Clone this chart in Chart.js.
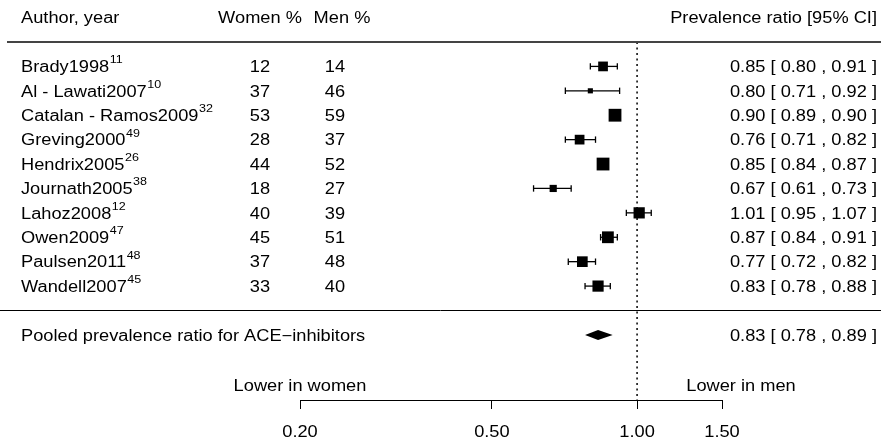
<!DOCTYPE html>
<html><head><meta charset="utf-8">
<script src="https://cdn.jsdelivr.net/npm/chart.js@4.4.1/dist/chart.umd.min.js"></script>
<style>html,body{margin:0;padding:0;background:#fff}#wrap{width:881px;height:440px}</style>
</head><body><div id="wrap"><canvas id="c" width="881" height="440"></canvas></div>
<script>
// ---- data ----
const studies = ['Brady1998', 'Al - Lawati2007', 'Catalan - Ramos2009', 'Greving2000', 'Hendrix2005', 'Journath2005', 'Lahoz2008', 'Owen2009', 'Paulsen2011', 'Wandell2007'];
const refs = ['11', '10', '32', '49', '26', '38', '12', '47', '48', '45'];
const womenPct = [12, 37, 53, 28, 44, 18, 40, 45, 37, 33];
const menPct = [14, 46, 59, 37, 52, 27, 39, 51, 48, 40];
const ratio = [0.85, 0.80, 0.90, 0.76, 0.85, 0.67, 1.01, 0.87, 0.77, 0.83];
const ciLow = [0.80, 0.71, 0.89, 0.71, 0.84, 0.61, 0.95, 0.84, 0.72, 0.78];
const ciHigh = [0.91, 0.92, 0.90, 0.82, 0.87, 0.73, 1.07, 0.91, 0.82, 0.88];
const weights = [8.6, 2.4, 14.9, 8.6, 14.9, 4.7, 11.5, 12.6, 10.4, 11.4];
const pooledLabel = 'Pooled prevalence ratio for ACE\u2212inhibitors';
const pooledRatio = [0.83];
const pooledLow = [0.78];
const pooledHigh = [0.89];
const xTicks = [0.20, 0.50, 1.00, 1.50];
const headers = ['Author, year', 'Women %', 'Men %', 'Prevalence ratio [95% CI]'];
const sideLabels = ['Lower in women', 'Lower in men'];

// ---- layout / style ----
const FONT = '"Liberation Sans", Arial, Helvetica, sans-serif';
const SX = 1.14;
const Y_MIN = -1, Y_MAX = 13.667;
const POOLED_ROW = 11, SEP_ROW = 10, HEADER_ROW = -2;

function txt(ctx, s, x, y, align, size) {
  ctx.save();
  ctx.font = size + 'px ' + FONT;
  ctx.fillStyle = '#000';
  ctx.textBaseline = 'alphabetic';
  ctx.textAlign = align;
  ctx.translate(x, y + size * 0.358);
  ctx.scale(SX, 1);
  ctx.fillText(s, 0, 0);
  const w = ctx.measureText(s).width * SX;
  ctx.restore();
  return w;
}
function fmt(v) { return v.toFixed(2); }
function sideFor(w) { return 12.8 * Math.sqrt(w / 14.9); }

const forestPlugin = {
  id: 'forest',
  afterDatasetsDraw(chart) {
    const ctx = chart.ctx, xs = chart.scales.x, ys = chart.scales.y;
    const yp = ys.getPixelForValue(POOLED_ROW);
    ctx.save();
    ctx.fillStyle = '#000';
    ctx.beginPath();
    ctx.moveTo(xs.getPixelForValue(pooledLow[0]), yp);
    ctx.lineTo(xs.getPixelForValue(pooledRatio[0]), yp - 5);
    ctx.lineTo(xs.getPixelForValue(pooledHigh[0]), yp);
    ctx.lineTo(xs.getPixelForValue(pooledRatio[0]), yp + 5);
    ctx.closePath();
    ctx.fill();
    ctx.restore();
  },
  afterDraw(chart) {
    const ctx = chart.ctx, xs = chart.scales.x, ys = chart.scales.y;
    const W = chart.width;
    ctx.save();
    ctx.strokeStyle = '#444';
    ctx.lineWidth = 2;
    ctx.beginPath();
    const yh = Math.round(ys.getPixelForValue(Y_MIN));
    ctx.moveTo(7, yh); ctx.lineTo(W, yh); ctx.stroke();
    ctx.strokeStyle = '#000';
    ctx.lineWidth = 1;
    const ysep = Math.round(ys.getPixelForValue(SEP_ROW)) + 0.5;
    ctx.beginPath(); ctx.moveTo(0, ysep); ctx.lineTo(W, ysep); ctx.stroke();
    ctx.restore();

    const FS = 16, SUP = 11;
    const yH = ys.getPixelForValue(HEADER_ROW);
    txt(ctx, headers[0], 21, yH, 'left', FS);
    txt(ctx, headers[1], 260, yH, 'center', FS);
    txt(ctx, headers[2], 342, yH, 'center', FS);
    txt(ctx, headers[3], 877, yH, 'right', FS);

    studies.forEach((s, i) => {
      const y = ys.getPixelForValue(i);
      const w = txt(ctx, s, 21, y, 'left', FS);
      txt(ctx, refs[i], 21 + w + 0.5, y - 7, 'left', SUP);
      txt(ctx, String(womenPct[i]), 260, y, 'center', FS);
      txt(ctx, String(menPct[i]), 335, y, 'center', FS);
      txt(ctx, fmt(ratio[i]) + ' [ ' + fmt(ciLow[i]) + ' , ' + fmt(ciHigh[i]) + ' ]', 877, y, 'right', FS);
    });
    const yP = ys.getPixelForValue(POOLED_ROW);
    txt(ctx, pooledLabel, 21, yP, 'left', FS);
    txt(ctx, fmt(pooledRatio[0]) + ' [ ' + fmt(pooledLow[0]) + ' , ' + fmt(pooledHigh[0]) + ' ]', 877, yP, 'right', FS);

    const yBottom = chart.chartArea.bottom;
    txt(ctx, sideLabels[0], xs.getPixelForValue(xTicks[0]), yBottom - 15, 'center', FS);
    txt(ctx, sideLabels[1], 741, yBottom - 15, 'center', FS);
    xTicks.forEach(v => {
      txt(ctx, fmt(v), xs.getPixelForValue(v), yBottom + 31, 'center', FS);
    });
  }
};

const datasets = [];
datasets.push({
  type: 'scatter',
  label: 'Prevalence ratio',
  data: studies.map((s, i) => ({ x: ratio[i], y: i })),
  pointStyle: 'rect',
  pointRadius: weights.map(w => sideFor(w) / Math.SQRT2),
  pointHoverRadius: weights.map(w => sideFor(w) / Math.SQRT2),
  backgroundColor: '#000',
  borderColor: '#000',
  pointBorderWidth: 0
});
studies.forEach((s, i) => {
  datasets.push({
    type: 'line',
    label: s + ' 95% CI',
    data: [{ x: ciLow[i], y: i }, { x: ciHigh[i], y: i }],
    borderColor: '#000',
    borderWidth: 1.3,
    pointStyle: 'line',
    pointRotation: 90,
    pointRadius: 3.2,
    pointBorderWidth: 1.3,
    pointBorderColor: '#000',
    fill: false
  });
});
datasets.push({
  type: 'line',
  label: 'No difference',
  data: [{ x: 1, y: Y_MIN }, { x: 1, y: Y_MAX }],
  borderColor: '#000',
  borderWidth: 1.5,
  borderDash: [2, 3.5],
  pointRadius: 0,
  fill: false
});

new Chart(document.getElementById('c'), {
  type: 'scatter',
  data: { datasets },
  options: {
    responsive: false,
    devicePixelRatio: 1,
    animation: false,
    events: [],
    layout: { padding: { left: 300, right: 159, top: 42, bottom: 0 } },
    plugins: { legend: { display: false }, tooltip: { enabled: false } },
    scales: {
      x: {
        type: 'logarithmic',
        position: 'bottom',
        min: xTicks[0],
        max: xTicks[xTicks.length - 1],
        afterBuildTicks: s => { s.ticks = xTicks.map(v => ({ value: v })); },
        afterFit: s => { s.height = 40; },
        grid: { display: true, drawOnChartArea: false, drawTicks: true, tickLength: 9, color: '#000', lineWidth: 1 },
        border: { display: true, color: '#000', width: 1 },
        ticks: { display: false }
      },
      y: {
        type: 'linear',
        reverse: true,
        min: Y_MIN,
        max: Y_MAX,
        display: false
      }
    }
  },
  plugins: [forestPlugin]
});
</script>
</body></html>
